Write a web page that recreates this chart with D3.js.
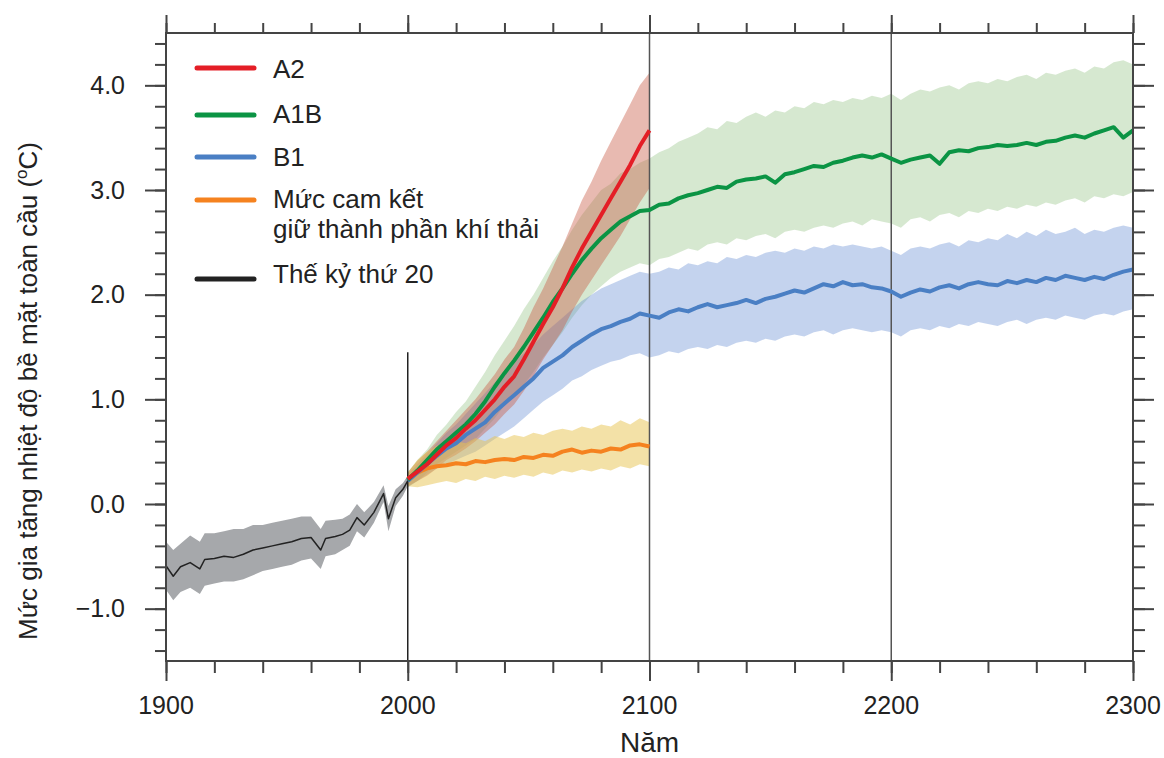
<!DOCTYPE html>
<meta charset="utf-8">
<title>Global surface warming</title>
<style>
  body { margin: 0; background: #fff; }
  svg text { font-family: "Liberation Sans", Arial, sans-serif; fill: #222; }
</style>
<svg width="1164" height="758"></svg>
<script src="https://cdn.jsdelivr.net/npm/d3@7"></script>
<script>

// 20th century (observed/simulated)
var histYears = [1900,1903,1906,1910,1914,1916,1920,1924,1928,1932,1936,1940,1944,1948,1952,1956,1960,1964,1966,1970,1973,1976,1979,1982,1986,1990,1992,1995,1998,2000];
var histMean = [-0.59,-0.69,-0.60,-0.56,-0.62,-0.53,-0.52,-0.50,-0.51,-0.48,-0.44,-0.42,-0.40,-0.38,-0.36,-0.33,-0.32,-0.44,-0.33,-0.31,-0.29,-0.25,-0.13,-0.20,-0.08,0.10,-0.14,0.06,0.14,0.22];
var histHi = [-0.36,-0.44,-0.38,-0.30,-0.36,-0.28,-0.28,-0.26,-0.24,-0.24,-0.20,-0.20,-0.18,-0.16,-0.14,-0.12,-0.12,-0.24,-0.16,-0.15,-0.14,-0.10,0.00,-0.08,0.02,0.18,-0.02,0.14,0.20,0.27];
var histLo = [-0.82,-0.92,-0.84,-0.80,-0.86,-0.78,-0.76,-0.74,-0.74,-0.72,-0.68,-0.64,-0.62,-0.60,-0.58,-0.54,-0.52,-0.62,-0.50,-0.48,-0.44,-0.40,-0.26,-0.32,-0.18,0.02,-0.26,-0.02,0.08,0.17];

// 2000-2100, every 4 years
var years21 = [2000,2004,2008,2012,2016,2020,2024,2028,2032,2036,2040,2044,2048,2052,2056,2060,2064,2068,2072,2076,2080,2084,2088,2092,2096,2100];

var a2Mean = [0.24,0.31,0.38,0.47,0.56,0.63,0.72,0.80,0.90,1.00,1.12,1.22,1.38,1.55,1.72,1.88,2.06,2.26,2.44,2.60,2.76,2.92,3.08,3.24,3.42,3.57];
var a2Hi = [0.30,0.41,0.50,0.60,0.70,0.80,0.90,1.00,1.12,1.24,1.38,1.50,1.68,1.88,2.06,2.26,2.46,2.68,2.90,3.08,3.28,3.46,3.64,3.82,4.00,4.12];
var a2Lo = [0.17,0.22,0.27,0.34,0.42,0.47,0.53,0.60,0.68,0.76,0.86,0.95,1.08,1.22,1.38,1.52,1.66,1.84,2.00,2.14,2.28,2.42,2.56,2.72,2.88,3.02];

var commitMean = [0.24,0.30,0.34,0.36,0.37,0.39,0.38,0.41,0.40,0.42,0.43,0.42,0.45,0.44,0.47,0.46,0.50,0.52,0.49,0.51,0.50,0.53,0.52,0.56,0.57,0.55];
var commitHi = [0.30,0.42,0.50,0.56,0.54,0.60,0.58,0.63,0.60,0.65,0.62,0.66,0.64,0.68,0.66,0.70,0.72,0.70,0.74,0.72,0.76,0.74,0.80,0.76,0.82,0.78];
var commitLo = [0.17,0.16,0.18,0.20,0.22,0.20,0.24,0.22,0.26,0.24,0.27,0.25,0.28,0.26,0.30,0.28,0.32,0.30,0.33,0.31,0.34,0.32,0.36,0.34,0.38,0.36];

// 2000-2300, every 4 years
var years23 = [2000,2004,2008,2012,2016,2020,2024,2028,2032,2036,2040,2044,2048,2052,2056,2060,2064,2068,2072,2076,2080,2084,2088,2092,2096,2100,
  2104,2108,2112,2116,2120,2124,2128,2132,2136,2140,2144,2148,2152,2156,2160,2164,2168,2172,2176,2180,2184,2188,2192,2196,2200,
  2204,2208,2212,2216,2220,2224,2228,2232,2236,2240,2244,2248,2252,2256,2260,2264,2268,2272,2276,2280,2284,2288,2292,2296,2300];

var a1bMean = [0.23,0.32,0.42,0.52,0.60,0.68,0.76,0.86,0.98,1.12,1.25,1.37,1.50,1.64,1.78,1.93,2.06,2.20,2.33,2.44,2.54,2.62,2.70,2.75,2.80,2.81,
  2.86,2.87,2.92,2.95,2.97,3.00,3.03,3.02,3.08,3.10,3.11,3.13,3.07,3.15,3.17,3.20,3.23,3.22,3.26,3.28,3.31,3.33,3.31,3.34,3.30,
  3.26,3.29,3.31,3.33,3.25,3.36,3.38,3.37,3.40,3.41,3.43,3.42,3.43,3.45,3.43,3.46,3.47,3.50,3.52,3.50,3.54,3.57,3.60,3.50,3.57];
var a1bHi = [0.30,0.42,0.52,0.66,0.76,0.88,0.98,1.12,1.26,1.42,1.56,1.70,1.86,2.00,2.16,2.32,2.46,2.62,2.76,2.88,3.00,3.06,3.16,3.20,3.26,3.30,
  3.36,3.40,3.46,3.50,3.54,3.60,3.58,3.66,3.64,3.70,3.74,3.70,3.76,3.74,3.80,3.78,3.84,3.82,3.86,3.84,3.88,3.86,3.90,3.88,3.92,
  3.86,3.92,3.96,3.94,3.98,4.00,3.96,4.02,4.04,4.02,4.06,4.04,4.08,4.10,4.06,4.12,4.10,4.14,4.16,4.12,4.18,4.16,4.22,4.24,4.20];
var a1bLo = [0.16,0.22,0.30,0.38,0.44,0.50,0.56,0.62,0.72,0.82,0.94,1.04,1.14,1.26,1.40,1.52,1.64,1.78,1.90,2.00,2.08,2.16,2.22,2.26,2.30,2.28,
  2.34,2.36,2.40,2.44,2.42,2.48,2.50,2.48,2.54,2.52,2.56,2.58,2.54,2.60,2.62,2.60,2.64,2.66,2.64,2.68,2.70,2.66,2.72,2.70,2.68,
  2.64,2.72,2.74,2.70,2.76,2.78,2.74,2.80,2.78,2.82,2.80,2.84,2.82,2.86,2.84,2.88,2.86,2.90,2.92,2.88,2.94,2.92,2.96,2.94,2.98];

var b1Mean = [0.22,0.30,0.38,0.46,0.53,0.58,0.66,0.72,0.78,0.88,0.96,1.04,1.12,1.20,1.30,1.36,1.42,1.50,1.56,1.62,1.67,1.70,1.74,1.77,1.82,1.80,
  1.78,1.83,1.86,1.84,1.88,1.91,1.88,1.90,1.92,1.95,1.92,1.96,1.98,2.01,2.04,2.02,2.06,2.10,2.08,2.12,2.09,2.10,2.07,2.06,2.03,
  1.98,2.02,2.05,2.03,2.07,2.09,2.06,2.10,2.12,2.10,2.09,2.13,2.11,2.14,2.12,2.16,2.14,2.18,2.16,2.14,2.17,2.15,2.19,2.22,2.24];
var b1Hi = [0.28,0.38,0.48,0.58,0.68,0.76,0.86,0.96,1.06,1.16,1.26,1.36,1.44,1.52,1.62,1.70,1.78,1.86,1.94,2.00,2.06,2.10,2.14,2.18,2.22,2.20,
  2.22,2.26,2.24,2.30,2.28,2.32,2.30,2.36,2.34,2.38,2.36,2.40,2.42,2.40,2.44,2.42,2.46,2.44,2.48,2.46,2.48,2.46,2.44,2.46,2.42,
  2.38,2.44,2.46,2.44,2.48,2.50,2.46,2.52,2.50,2.54,2.52,2.58,2.54,2.60,2.56,2.62,2.58,2.60,2.64,2.58,2.62,2.60,2.64,2.66,2.64];
var b1Lo = [0.16,0.22,0.28,0.34,0.38,0.42,0.46,0.50,0.56,0.62,0.68,0.74,0.82,0.90,0.98,1.04,1.10,1.18,1.22,1.28,1.32,1.36,1.38,1.42,1.44,1.40,
  1.42,1.46,1.44,1.48,1.50,1.48,1.52,1.50,1.54,1.56,1.54,1.58,1.56,1.60,1.62,1.60,1.64,1.66,1.62,1.66,1.68,1.66,1.64,1.66,1.64,
  1.60,1.66,1.68,1.66,1.70,1.68,1.72,1.70,1.74,1.72,1.70,1.74,1.76,1.72,1.76,1.78,1.76,1.80,1.78,1.76,1.80,1.82,1.80,1.84,1.86];

var legendNames = ["A2", "A1B", "B1", "Mức cam kết|giữ thành phần khí thải", "Thế kỷ thứ 20"];
var xTickValues = [1900, 2000, 2100, 2200, 2300];
var yTickValues = [-1.0, 0.0, 1.0, 2.0, 3.0, 4.0];

var svg = d3.select("svg");

var mLeft = 166, mRight = 1133, mTop = 33, mBottom = 661;

var x = d3.scaleLinear().domain([1900, 2300]).range([mLeft, mRight]);
var y = d3.scaleLinear().domain([-1.5, 4.5]).range([mBottom, mTop]);

function zip(years, vals) {
  return years.map(function(yr, i) { return [yr, vals[i]]; });
}
function band(years, lo, hi) {
  return years.map(function(yr, i) { return [yr, lo[i], hi[i]]; });
}

var area = d3.area()
    .x(function(d) { return x(d[0]); })
    .y0(function(d) { return y(d[1]); })
    .y1(function(d) { return y(d[2]); });

var line = d3.line()
    .x(function(d) { return x(d[0]); })
    .y(function(d) { return y(d[1]); });

// bands
var bands = [
  {d: band(years23, a1bLo, a1bHi), fill: "rgb(120,180,100)", op: 0.3},
  {d: band(years23, b1Lo, b1Hi), fill: "rgb(100,140,210)", op: 0.38},
  {d: band(years21, a2Lo, a2Hi), fill: "rgb(200,90,70)", op: 0.42},
  {d: band(years21, commitLo, commitHi), fill: "rgb(232,196,80)", op: 0.5},
  {d: band(histYears, histLo, histHi), fill: "#a6a8ab", op: 1}
];

svg.append("g")
  .selectAll("path")
  .data(bands)
  .enter().append("path")
    .attr("d", function(d) { return area(d.d); })
    .attr("fill", function(d) { return d.fill; })
    .attr("fill-opacity", function(d) { return d.op; });

// century lines
svg.append("g")
  .selectAll("line")
  .data([2100, 2200])
  .enter().append("line")
    .attr("x1", function(d) { return x(d); })
    .attr("x2", function(d) { return x(d); })
    .attr("y1", mTop)
    .attr("y2", mBottom)
    .attr("stroke", "#555")
    .attr("stroke-width", 1.5);

svg.append("line")
    .attr("x1", x(2000)).attr("x2", x(2000))
    .attr("y1", y(1.45)).attr("y2", mBottom)
    .attr("stroke", "#222")
    .attr("stroke-width", 1.5);

// mean lines
var lines = [
  {d: zip(years21, commitMean), color: "#f5821f", w: 4},
  {d: zip(years23, b1Mean), color: "#4a7fc4", w: 4},
  {d: zip(years23, a1bMean), color: "#0b9444", w: 4},
  {d: zip(years21, a2Mean), color: "#e41e26", w: 4},
  {d: zip(histYears, histMean), color: "#222", w: 1.5}
];

svg.append("g")
  .selectAll("path")
  .data(lines)
  .enter().append("path")
    .attr("d", function(d) { return line(d.d); })
    .attr("fill", "none")
    .attr("stroke", function(d) { return d.color; })
    .attr("stroke-width", function(d) { return d.w; })
    .attr("stroke-linejoin", "round");

// axes: frame with outward ticks
var minorX = d3.range(1900, 2301, 20);
var minorY = d3.range(-14, 45, 2).map(function(v) { return v / 10; });

function tickG(sel) {
  sel.select(".domain").remove();
  sel.selectAll(".tick line").attr("stroke", "#444").attr("stroke-width", 2);
  sel.selectAll(".tick text").remove();
}

svg.append("g").attr("transform", "translate(0," + mBottom + ")")
  .call(d3.axisBottom(x).tickValues(minorX).tickSize(12)).call(tickG);
svg.append("g").attr("transform", "translate(0," + mBottom + ")")
  .call(d3.axisBottom(x).tickValues(xTickValues).tickSize(20)).call(tickG);
svg.append("g").attr("transform", "translate(0," + mTop + ")")
  .call(d3.axisTop(x).tickValues(minorX).tickSize(10)).call(tickG);
svg.append("g").attr("transform", "translate(0," + mTop + ")")
  .call(d3.axisTop(x).tickValues(xTickValues).tickSize(18)).call(tickG);
svg.append("g").attr("transform", "translate(" + mLeft + ",0)")
  .call(d3.axisLeft(y).tickValues(minorY).tickSize(11)).call(tickG);
svg.append("g").attr("transform", "translate(" + mLeft + ",0)")
  .call(d3.axisLeft(y).tickValues(yTickValues).tickSize(21)).call(tickG);
svg.append("g").attr("transform", "translate(" + mRight + ",0)")
  .call(d3.axisRight(y).tickValues(minorY).tickSize(12)).call(tickG);
svg.append("g").attr("transform", "translate(" + mRight + ",0)")
  .call(d3.axisRight(y).tickValues(yTickValues).tickSize(21)).call(tickG);

svg.append("rect")
    .attr("x", mLeft).attr("y", mTop)
    .attr("width", mRight - mLeft).attr("height", mBottom - mTop)
    .attr("fill", "none")
    .attr("stroke", "#444")
    .attr("stroke-width", 2);

// tick labels
svg.append("g")
  .selectAll("text")
  .data(xTickValues)
  .enter().append("text")
    .attr("x", function(d) { return x(d); })
    .attr("y", 714)
    .attr("text-anchor", "middle")
    .style("font-size", "25px")
    .text(function(d) { return d; });

svg.append("g")
  .selectAll("text")
  .data(yTickValues)
  .enter().append("text")
    .attr("x", 125)
    .attr("y", function(d) { return y(d); })
    .attr("dy", "0.35em")
    .attr("text-anchor", "end")
    .style("font-size", "25px")
    .text(function(d) { return d3.format(".1f")(d); });

// axis titles
svg.append("text")
    .attr("x", x(2100))
    .attr("y", 752)
    .attr("text-anchor", "middle")
    .style("font-size", "28px")
    .text("Năm");

var yt = svg.append("text")
    .attr("transform", "translate(37,391)rotate(-90)")
    .attr("text-anchor", "middle")
    .style("font-size", "26px");
yt.append("tspan").text("Mức gia tăng nhiệt độ bề mặt toàn cầu (");
yt.append("tspan").attr("dy", -10).style("font-size", "17px").text("o");
yt.append("tspan").attr("dy", 10).text("C)");

// legend
var legendColors = ["#e41e26", "#0b9444", "#4a7fc4", "#f5821f", "#222"];
var legendY = [68, 115, 157, 200, 279];
var legendText = [78, 123, 166, 208, 283];

var lg = svg.append("g");
legendNames.forEach(function(name, i) {
  lg.append("line")
    .attr("x1", 197).attr("x2", 254)
    .attr("y1", legendY[i]).attr("y2", legendY[i])
    .attr("stroke", legendColors[i])
    .attr("stroke-width", 5)
    .attr("stroke-linecap", "round");
  name.split("|").forEach(function(part, j) {
    lg.append("text")
      .attr("x", 273)
      .attr("y", legendText[i] + j * 30)
      .style("font-size", "26px")
      .text(part);
  });
});

</script>
